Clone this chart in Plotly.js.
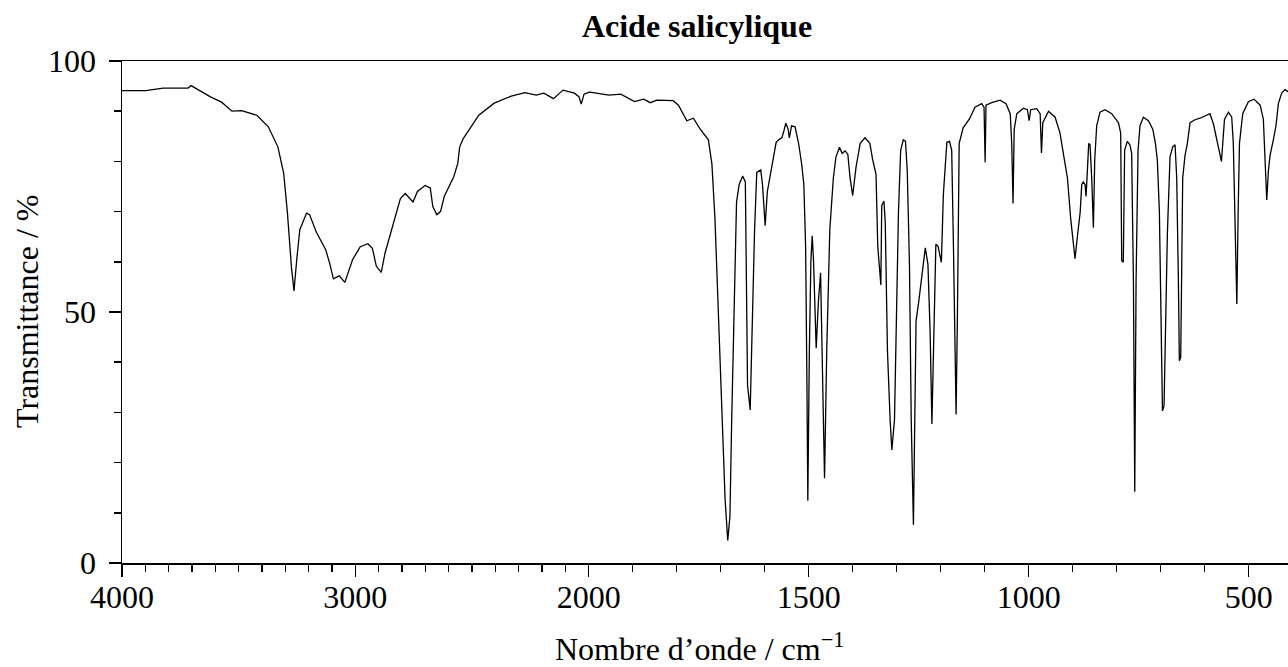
<!DOCTYPE html>
<html>
<head>
<meta charset="utf-8">
<script src="https://cdn.plot.ly/plotly-3.0.1.min.js"></script>
<style>html,body{margin:0;padding:0;background:#fff;}#chart{width:1288px;height:667px;}</style>
</head>
<body>
<div id="chart"></div>
<script>
// Wavenumber (cm-1) and transmittance (%)
const wavenumber = [
4000,3898,3824,3717,3704,3619,3573,3529,3488,3422,3373,3332,3307,3291,3274,3263,3250,3238,3209,3196,
3168,3127,3110,3094,3069,3045,3012,2979,2946,2927,2910,2889,2873,2832,2807,2786,2753,2734,2701,2679,
2668,2651,2635,2619,2578,2561,2553,2537,2471,2405,2332,2274,2225,2192,2151,2110,2061,2042,2032,2020,
1997,1980,1954,1927,1896,1875,
1860,1845,1808,1796,1777,1762,1747,1728,1720,1713,1705,1698,1690,1684,1679,1675,1670,1664,1658,1650,
1644,1639,1633,1629,1623,1618,1609,1605,1599,1594,1584,1574,1567,1561,1556,1552,1547,1544,1539,1531,
1523,1516,1511,1507,1504,1502,1498.5,1495,1492,1489,1483,1478,1473,1470,1464,1459,1452,1444,1438,1430,
1424,1417,1411,1406,1400,1392.5,1383,1372,1361,1355,1347,1343,1338,1336,1334,1329,1326,1321,1315,1311,
1305,1300,1296,1291,1285,1280,1276,1271,1267,1262,1258,1256,1250,1243,1235,1229,1224,1220,1215,1211,
1206,1198.5,1194,1186,1180,1175,1171,1167.5,1165,1162,1158,1149,1135,1122,1107,1101.5,1099,1097,1084,1065,
1051.5,1042,1038.6,1035.6,1033,1027,1012,1003,999,995.5,982,974,971,968,955,940,929,920,912,904.5,
898.5,894.7,889.4,883,879.5,876,872,869.7,866.7,863.6,860.6,856.8,853,850,845.5,838,826.5,811.4,796,791,
788.6,785,782,776,770,766,762,759,756,751.5,747,739.4,728,718,712,707.6,703,698.5,696,692.4,
689.4,684.8,678.8,672.7,667.4,663.6,659.8,657.6,654.5,652.3,650,644.7,639.4,633.3,622,610.6,599,588,580,571,
565,562,559,555,546,538.6,535,531,527,524,521,513.6,500.8,488,474,466.7,463,459,455.3,451.5,
444,438,432.6,425,417.4,410.6
];
const transmittance = [
94.1,94.1,94.6,94.6,95.1,92.8,91.8,90.0,90.1,89.2,86.9,82.9,77.6,69.7,59.0,54.2,61.0,66.4,69.7,69.4,
66.0,62.4,59.7,56.6,57.2,55.9,60.4,63.0,63.6,62.7,59.1,57.9,61.7,68.3,72.6,73.6,71.9,74.0,75.2,74.7,
71.0,69.4,70.0,73.0,77.0,79.6,82.9,84.6,89.2,91.6,93.0,93.7,93.2,93.6,92.5,94.2,93.6,92.9,91.4,93.4,
93.8,93.6,93.2,93.4,91.9,92.4,
91.7,92.2,92.1,91.2,88.1,88.6,86.5,84.3,79.5,68.5,49.2,28.6,12.7,4.5,9.3,28.6,49.2,71.9,75.4,77.1,
75.9,35.4,30.5,45.8,66.4,77.8,78.3,75.4,67.2,74.0,79.1,83.8,84.4,84.7,86.2,87.6,86.5,84.7,87.1,86.9,
83.6,79.5,75.4,63.0,35.4,12.4,42.3,60.2,65.2,60.2,42.8,52.0,57.8,42.3,16.9,42.3,66.4,76.7,80.9,82.8,
81.6,82.1,81.4,76.7,73.2,78.8,83.6,84.7,83.6,80.5,77.4,63.0,57.5,55.4,71.2,72.1,67.8,42.3,28.6,22.5,
28.6,49.2,69.9,82.2,84.3,84.0,78.1,59.5,28.6,7.6,35.4,48.2,52.0,57.5,62.8,59.5,45.8,27.7,49.2,63.5,
63.1,59.9,73.3,83.8,84.0,82.2,63.0,42.3,29.6,49.2,83.6,86.7,88.4,90.8,91.5,90.8,79.8,91.2,91.7,92.2,
91.5,89.5,83.6,71.6,86.4,89.5,90.6,90.3,88.1,90.3,90.5,89.5,81.7,87.7,90.0,88.8,85.7,80.9,76.7,68.5,
63.0,60.6,65.0,69.9,75.4,75.9,75.4,73.0,78.1,83.6,83.3,76.7,66.8,80.2,87.1,89.8,90.3,89.5,87.7,85.7,
60.2,59.9,82.2,84.0,83.3,81.6,56.1,14.2,56.1,82.2,87.1,88.8,88.1,86.4,83.6,80.2,69.9,42.3,30.3,31.3,
45.8,65.7,80.9,82.9,83.3,76.7,56.1,40.3,41.0,63.0,76.7,81.2,83.6,87.7,88.3,88.6,89.1,89.5,87.4,83.6,
80.9,80.0,83.6,88.4,89.8,88.8,83.6,69.9,51.6,69.9,83.6,89.5,91.9,92.4,91.2,88.4,81.6,72.3,78.1,81.2,
84.3,87.1,91.5,93.6,94.3,93.9
];

// Axis labels
const titleText = "Acide salicylique";
const xTitle = "Nombre d’onde / cm<sup>−1</sup>";
const yTitle = "Transmittance / %";
const xTicksHigh = [4000, 3000, 2000];
const xTicksLow = [1500, 1000, 500];
const yTicks = [0, 50, 100];

const FONT = '"Liberation Serif", "Times New Roman", Times, serif';
const W = 1288, H = 667, L = 122, R = 0, T = 61, B = 104;
const plotW = W - L - R;
const plotH = H - T - B;
const breakFrac = (588.7 - L) / plotW;

const lineStyle = {color: "#000", width: 1.3};
const traces = [
  {x: wavenumber, y: transmittance, xaxis: "x", yaxis: "y", type: "scatter", mode: "lines", line: lineStyle, hoverinfo: "skip"},
  {x: wavenumber, y: transmittance, xaxis: "x2", yaxis: "y", type: "scatter", mode: "lines", line: lineStyle, hoverinfo: "skip"}
];

const axisCommon = {
  showgrid: false, zeroline: false, showline: true, linecolor: "#000", linewidth: 1.5,
  ticks: "outside", ticklen: 12, tickwidth: 1.5, tickcolor: "#000",
  tickfont: {family: FONT, size: 32, color: "#000"},
  tickmode: "array", fixedrange: true
};
const minorX = {dtick: 100, tick0: 0, ticks: "outside", ticklen: 7, tickwidth: 1.5, tickcolor: "#000", showgrid: false};

const layout = {
  width: W, height: H,
  margin: {l: L, r: R, t: T, b: B, pad: 0},
  paper_bgcolor: "#fff", plot_bgcolor: "#fff",
  showlegend: false,
  font: {family: FONT, color: "#000", size: 32},
  title: {
    text: "<b>" + titleText + "</b>",
    font: {family: FONT, size: 32, color: "#000"},
    x: (697 - L) / plotW, xref: "paper", xanchor: "center",
    y: 1 - 26 / H, yref: "container", yanchor: "middle"
  },
  xaxis: Object.assign({}, axisCommon, {
    domain: [0, breakFrac], range: [4000, 2000], tickvals: xTicksHigh,
    mirror: true, anchor: "y", ticklabelstandoff: -7, minor: minorX
  }),
  xaxis2: Object.assign({}, axisCommon, {
    domain: [breakFrac, 1], range: [2000, 410.7], tickvals: xTicksLow,
    mirror: true, anchor: "y", ticklabelstandoff: -7, minor: minorX
  }),
  yaxis: Object.assign({}, axisCommon, {
    range: [0, 100], tickvals: yTicks, anchor: "x", ticklabelstandoff: 6,
    minor: {dtick: 10, tick0: 0, ticks: "outside", ticklen: 7, tickwidth: 1.5, tickcolor: "#000", showgrid: false}
  }),
  annotations: [
    {text: xTitle, xref: "paper", yref: "paper", x: (700 - L) / plotW, y: -(647 - 563) / plotH,
     xanchor: "center", yanchor: "middle", showarrow: false, font: {family: FONT, size: 32, color: "#000"}},
    {text: yTitle, xref: "paper", yref: "paper", x: -(L - 27) / plotW, y: 0.5, textangle: -90,
     xanchor: "center", yanchor: "middle", showarrow: false, font: {family: FONT, size: 32, color: "#000"}}
  ]
};

Plotly.newPlot("chart", traces, layout, {displayModeBar: false, staticPlot: true});
</script>
</body>
</html>
